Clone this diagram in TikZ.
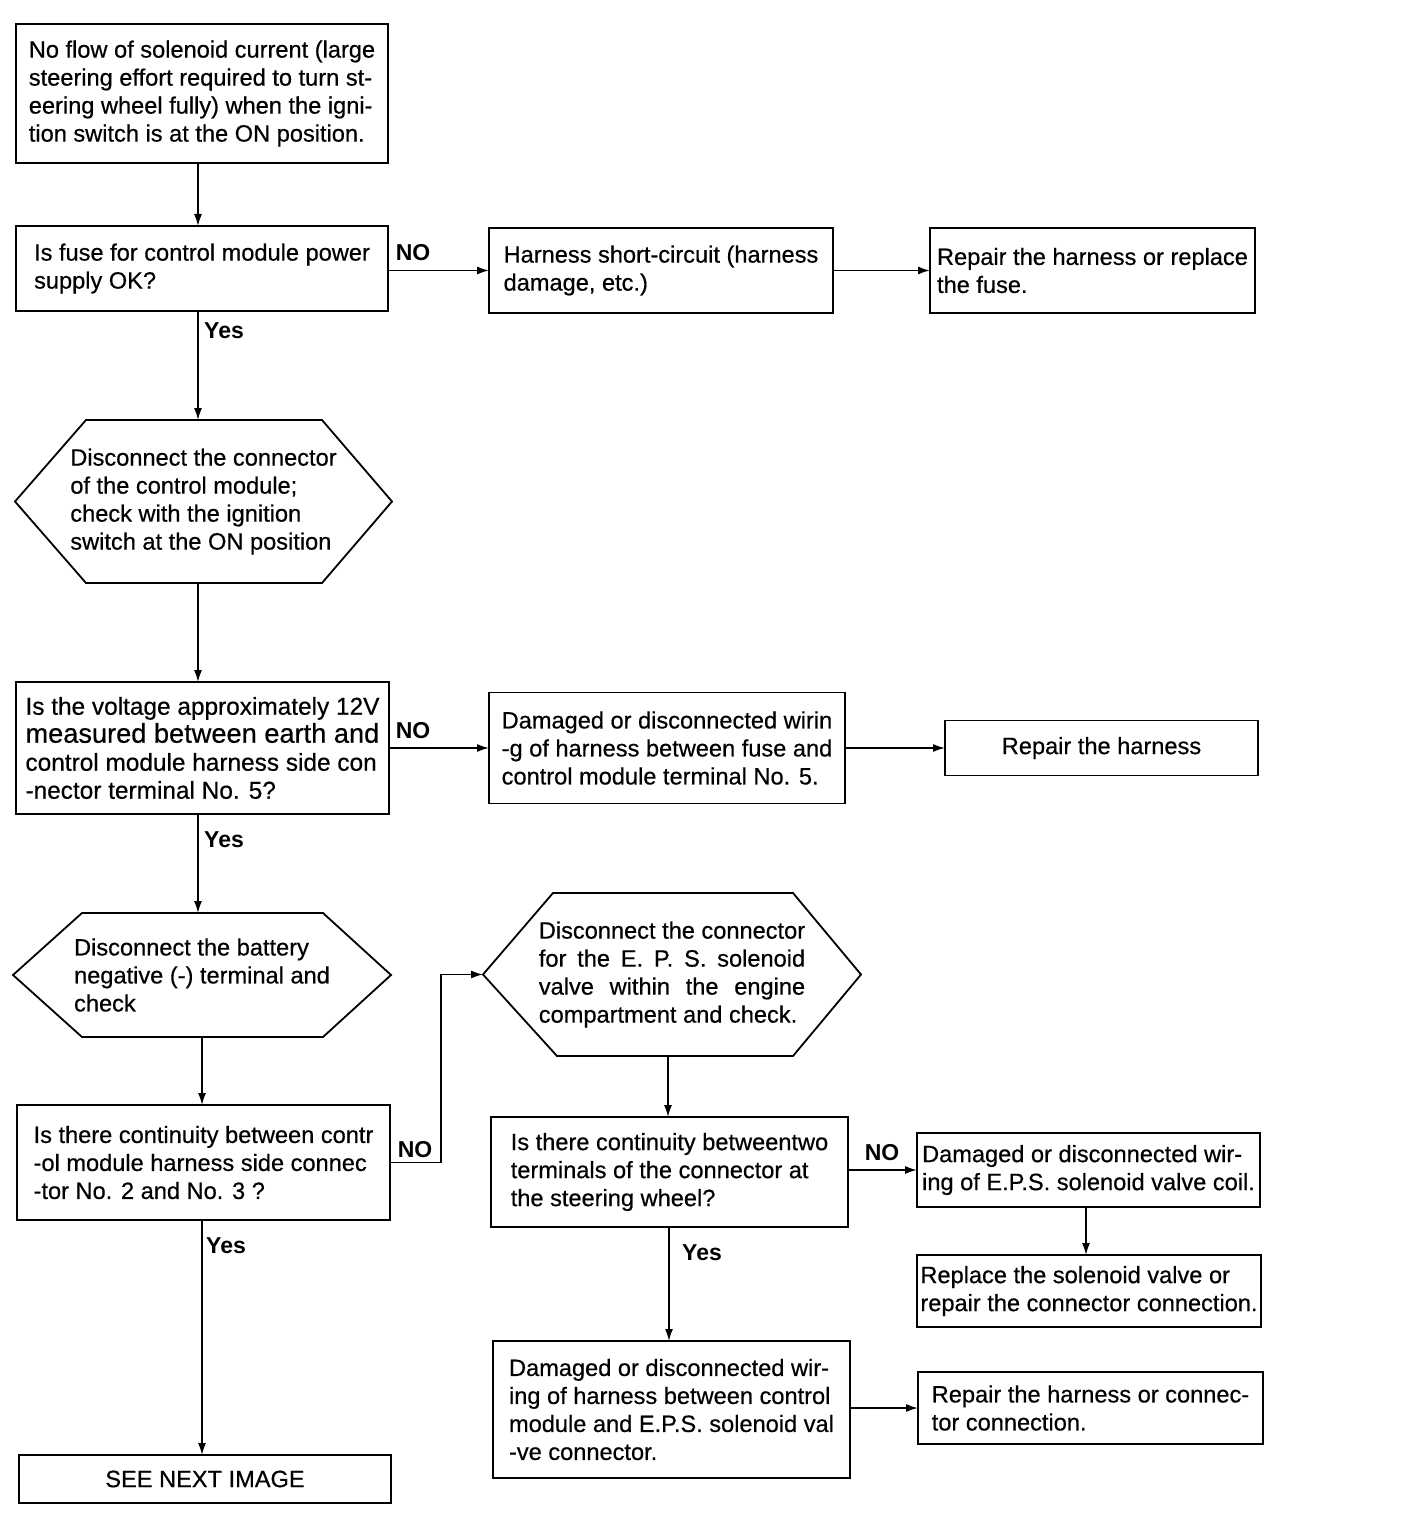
\documentclass[tikz,border=0pt]{standalone}
\usepackage{fontspec}
\setmainfont{Liberation Sans}
\newfontfamily\bodyfam{Liberation Sans}[FakeBold=0.5]
\usetikzlibrary{arrows.meta,calc}
\newlength\hexw
\newcommand\bodyfont{\bodyfam\fontsize{11.8}{14}\selectfont}
\newcommand\bigbody{\bodyfam\fontsize{12.2}{14}\selectfont}
\newcommand\lblfont{\fontsize{11.5}{14}\selectfont\bfseries}
\tikzset{
  box/.style={draw, line width=0.9pt, outer sep=0pt, inner sep=0pt, align=left, font=\bodyfont},
  hexnode/.style={outer sep=0pt, inner sep=0pt, align=left, font=\bodyfont},
  hexline/.style={line width=0.9pt, line join=miter},
  lbl/.style={font=\lblfont, inner sep=0pt},
  arr/.style={line width=0.8pt, -{Latex[length=6pt,width=4pt]}},
}
\begin{document}
\settowidth{\hexw}{\bodyfont Disconnect the connector}%
\begin{tikzpicture}[x=0.5pt,y=-0.5pt]
\useasboundingbox[fill=white] (0,0) rectangle (1408,1530);

% left column
\node[box, minimum width=186pt, minimum height=69.5pt] (start) at (202,93.5)
  {No flow of solenoid current (large\\steering effort required to turn st-\\eering wheel fully) when the igni-\\tion switch is at the ON position.};
\node[box, minimum width=186pt, minimum height=42.5pt] (q1) at (202,268.5)
  {Is fuse for control module power\\supply OK?};
\node[hexnode, minimum width=188.5pt, minimum height=81.5pt] (h1) at (203.5,501.5)
  {Disconnect the connector\\of the control module;\\check with the ignition\\switch at the ON position};
\node[box, font=\bigbody, minimum width=186.5pt, minimum height=66pt] (q2) at (202.5,748)
  {Is the voltage approximately 12V\\{\fontsize{13.6}{14}\selectfont measured between earth and}\\control module harness side con\\-nector terminal No. 5?};
\node[hexnode, minimum width=189pt, minimum height=62pt] (h2) at (202,975)
  {Disconnect the battery\\negative (-) terminal and\\check};
\node[box, minimum width=186.5pt, minimum height=57.5pt] (q3) at (203.5,1162.5)
  {Is there continuity between contr\\-ol module harness side connec\\-tor No. 2 and No. 3 ?};
\node[box, minimum width=186pt, minimum height=24pt] (next) at (205,1479)
  {SEE NEXT IMAGE};

% middle column
\node[box, minimum width=172pt, minimum height=42.5pt] (b3) at (661,270.5)
  {Harness short-circuit (harness\\damage, etc.)};
\node[box, minimum width=178pt, minimum height=55.5pt] (b7) at (667,748)
  {Damaged or disconnected wirin\\-g of harness between fuse and\\control module terminal No. 5.};
\node[hexnode, minimum width=189pt, minimum height=81.5pt] (h3) at (672,974.5)
  {Disconnect the connector\\\makebox[\hexw][s]{for the E. P. S. solenoid}\\\makebox[\hexw][s]{valve within the engine}\\compartment and check.};
\node[box, minimum width=178.5pt, minimum height=55pt] (q4) at (669.5,1172)
  {Is there continuity betweentwo\\terminals of the connector at\\the steering wheel?};
\node[box, minimum width=178.5pt, minimum height=68.5pt] (b16) at (671.5,1409.5)
  {Damaged or disconnected wir-\\ing of harness between control\\module and E.P.S. solenoid val\\-ve connector.};

% right column
\node[box, minimum width=162.5pt, minimum height=42.5pt] (b4) at (1092.5,270.5)
  {Repair the harness or replace\\the fuse.};
\node[box, minimum width=156.5pt, minimum height=27.5pt] (b8) at (1101.5,748)
  {Repair the harness};
\node[box, minimum width=171.5pt, minimum height=37pt] (b14) at (1088.5,1170)
  {Damaged or disconnected wir-\\ing of E.P.S. solenoid valve coil.};
\node[box, minimum width=172pt, minimum height=36pt] (b15) at (1089,1291)
  {Replace the solenoid valve or\\repair the connector connection.};
\node[box, minimum width=172.5pt, minimum height=36pt] (b17) at (1090.5,1408)
  {Repair the harness or connec-\\tor connection.};

% hexagon outlines
\draw[hexline] (h1.west) -- ($(h1.north west)+(71,0)$) -- ($(h1.north east)+(-70,0)$) -- (h1.east)
  -- ($(h1.south east)+(-70,0)$) -- ($(h1.south west)+(71,0)$) -- cycle;
\draw[hexline] (h2.west) -- ($(h2.north west)+(69,0)$) -- ($(h2.north east)+(-68,0)$) -- (h2.east)
  -- ($(h2.south east)+(-68,0)$) -- ($(h2.south west)+(69,0)$) -- cycle;
\draw[hexline] (h3.west) -- ($(h3.north west)+(70,0)$) -- ($(h3.north east)+(-68,0)$) -- (h3.east)
  -- ($(h3.south east)+(-68,0)$) -- ($(h3.south west)+(74,0)$) -- cycle;

% labels
\node[lbl] (no1) at (413,253) {NO};
\node[lbl] (no2) at (413,731) {NO};
\node[lbl] (no3) at (415,1150) {NO};
\node[lbl] (no4) at (882,1153) {NO};
\node[lbl] (yes1) at (224,331) {Yes};
\node[lbl] (yes2) at (224,840) {Yes};
\node[lbl] (yes3) at (226,1246) {Yes};
\node[lbl] (yes4) at (702,1253) {Yes};

% helper points for vertical connectors
\coordinate (c1) at ($(h3.south)+(-4,0)$);
\coordinate (c2) at ($(q4.south)+(-0.5,0)$);
\coordinate (c3) at ($(b14.south)+(-2.5,0)$);
\coordinate (c4) at (h2.south);

% connectors
\draw[arr] ($(start.south)+(-4,0)$) -- ($(q1.north)+(-4,0)$);
\draw[arr] ($(q1.south)+(-4,0)$) -- ($(h1.north)+(-5.5,0)$);
\draw[arr] ($(h1.south)+(-5.5,0)$) -- ($(q2.north)+(-4.5,0)$);
\draw[arr] ($(q2.south)+(-4.5,0)$) -- ($(h2.north)+(-4,0)$);
\draw[arr] (c4) -- (c4 |- q3.north);
\draw[arr] ($(q3.south)+(-1.5,0)$) -- ($(next.north)+(-3,0)$);

\draw[arr] (q1.east |- b3.west) -- (b3.west);
\draw[arr] (b3.east) -- (b4.west);
\draw[arr] (q2.east) -- (b7.west);
\draw[arr] (b7.east) -- (b8.west);
\draw[arr] (q3.east) -- ++(51,0) |- (h3.west);
\draw[arr] (c1) -- (c1 |- q4.north);
\draw[arr] (c2) -- (c2 |- b16.north);
\draw[arr] (b14.west -| q4.east) -- (b14.west);
\draw[arr] (c3) -- (c3 |- b15.north);
\draw[arr] (b17.west -| b16.east) -- (b17.west);
\end{tikzpicture}
\end{document}
